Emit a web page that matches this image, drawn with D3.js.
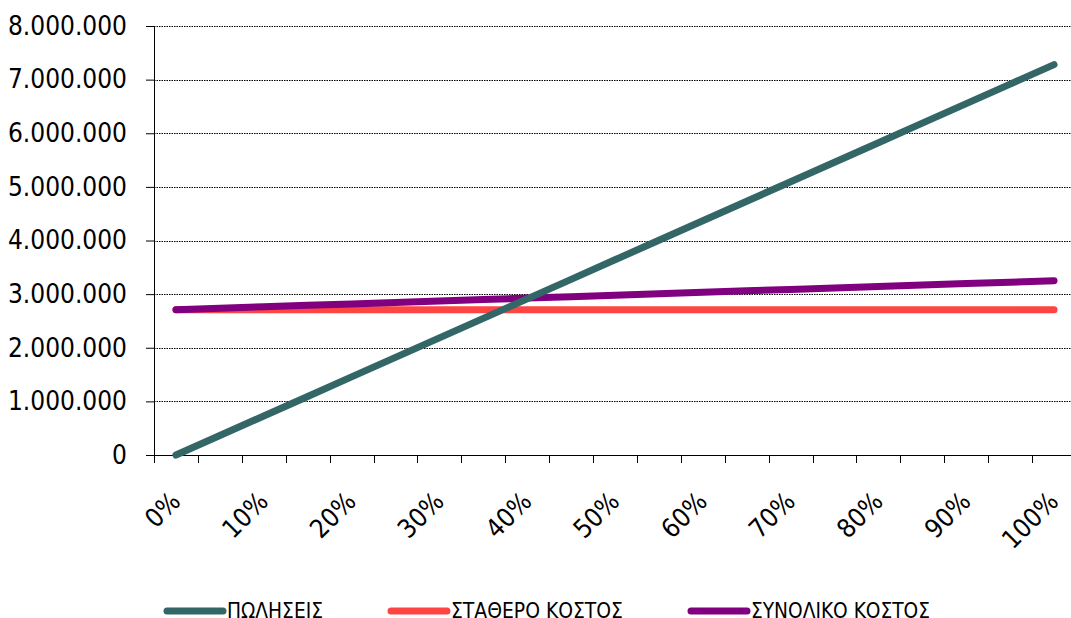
<!DOCTYPE html>
<html>
<head>
<meta charset="utf-8">
<script src="https://cdn.jsdelivr.net/npm/d3@7"></script>
<style>
  body { margin: 0; background: #fff; }
  svg { display: block; }
  text { font-family: "DejaVu Sans Condensed", "DejaVu Sans", sans-serif; }
</style>
</head>
<body>
<svg id="chart"></svg>
<script>
// categories: 0% .. 100% in 5% steps, only every other one gets a label
const categories = ["0%","5%","10%","15%","20%","25%","30%","35%","40%","45%","50%",
  "55%","60%","65%","70%","75%","80%","85%","90%","95%","100%"];
const tickLabels = ["0%","10%","20%","30%","40%","50%","60%","70%","80%","90%","100%"];

const sales = [0, 364000, 728000, 1092000, 1456000, 1820000, 2184000, 2548000, 2912000,
  3276000, 3640000, 4004000, 4368000, 4732000, 5096000, 5460000, 5824000, 6188000,
  6552000, 6916000, 7280000];
const fixedCost = [2710000, 2710000, 2710000, 2710000, 2710000, 2710000, 2710000, 2710000,
  2710000, 2710000, 2710000, 2710000, 2710000, 2710000, 2710000, 2710000, 2710000,
  2710000, 2710000, 2710000, 2710000];
const totalCost = [2710000, 2737000, 2764000, 2791000, 2818000, 2845000, 2872000, 2899000,
  2926000, 2953000, 2980000, 3007000, 3034000, 3061000, 3088000, 3115000, 3142000,
  3169000, 3196000, 3223000, 3250000];
const yTicks = [0, 1000000, 2000000, 3000000, 4000000, 5000000, 6000000, 7000000, 8000000];

const seriesNames = ["ΠΩΛΗΣΕΙΣ", "ΣΤΑΘΕΡΟ ΚΟΣΤΟΣ", "ΣΥΝΟΛΙΚΟ ΚΟΣΤΟΣ"];
const seriesColors = ["#336666", "#ff4444", "#800080"];

const width = 1071, height = 618;
const margin = {top: 26, left: 154, bottom: 163};
const plotW = 922, plotH = height - margin.top - margin.bottom;

const svg = d3.select("#chart").attr("width", width).attr("height", height);
const chart = svg.append("g").attr("transform", "translate(" + margin.left + "," + margin.top + ")");

const x = d3.scaleBand().domain(categories).range([0, plotW]);
const y = d3.scaleLinear().domain([0, 8000000]).range([plotH, 0]);

const fmt = d => d3.format(",")(d).replace(/,/g, ".");

// dotted grid
chart.append("g")
  .selectAll("line")
  .data(yTicks.slice(1))
  .enter().append("line")
  .attr("x1", 0).attr("x2", plotW)
  .attr("y1", d => Math.round(y(d)) + 0.5).attr("y2", d => Math.round(y(d)) + 0.5)
  .attr("stroke", "#000")
  .attr("stroke-width", 1)
  .attr("stroke-dasharray", "1.5,1");

// y axis
const yAxis = chart.append("g")
  .call(d3.axisLeft(y).tickValues(yTicks).tickFormat(fmt).tickSize(8).tickPadding(19));
yAxis.select(".domain").attr("stroke", "#000");
yAxis.selectAll("text").style("font-size", "26px").attr("fill", "#000");

// x axis: a tick at every band border
const xAxisG = chart.append("g").attr("transform", "translate(0," + plotH + ")");
xAxisG.append("line").attr("x1", 0).attr("x2", plotW).attr("y1", 0.5).attr("y2", 0.5).attr("stroke", "#000");
xAxisG.selectAll("line.tk")
  .data(categories)
  .enter().append("line")
  .attr("class", "tk")
  .attr("x1", d => Math.round(x(d)) + 0.5).attr("x2", d => Math.round(x(d)) + 0.5)
  .attr("y1", 0).attr("y2", 8)
  .attr("stroke", "#000");
xAxisG.selectAll("text")
  .data(tickLabels)
  .enter().append("text")
  .attr("transform", d => "translate(" + (x(d) + x.bandwidth() / 2 + 6) + ",48) rotate(-45)")
  .attr("text-anchor", "end")
  .style("font-size", "26px")
  .text(d => d);

// lines
const line = d3.line().x((d, i) => x(categories[i]) + x.bandwidth() / 2).y(d => y(d));
[fixedCost, totalCost, sales].forEach(s => {
  const i = [sales, fixedCost, totalCost].indexOf(s);
  chart.append("path")
    .datum(s)
    .attr("d", line)
    .attr("fill", "none")
    .attr("stroke", seriesColors[i])
    .attr("stroke-width", 7)
    .attr("stroke-linecap", "round");
});

// legend (text runs into the bottom edge, as in the original)
const legendX = [167, 391, 691];
const legendW = [96, 172, 179];
const legend = svg.append("g").selectAll("g")
  .data(seriesNames)
  .enter().append("g")
  .attr("transform", (d, i) => "translate(" + legendX[i] + ",611)");
legend.append("line")
  .attr("x1", 0).attr("x2", 56)
  .attr("stroke", (d, i) => seriesColors[i])
  .attr("stroke-width", 7)
  .attr("stroke-linecap", "round");
legend.append("text")
  .attr("x", 60)
  .attr("y", 7)
  .attr("textLength", (d, i) => legendW[i])
  .attr("lengthAdjust", "spacingAndGlyphs")
  .style("font-size", "22px")
  .text(d => d);
</script>
</body>
</html>
